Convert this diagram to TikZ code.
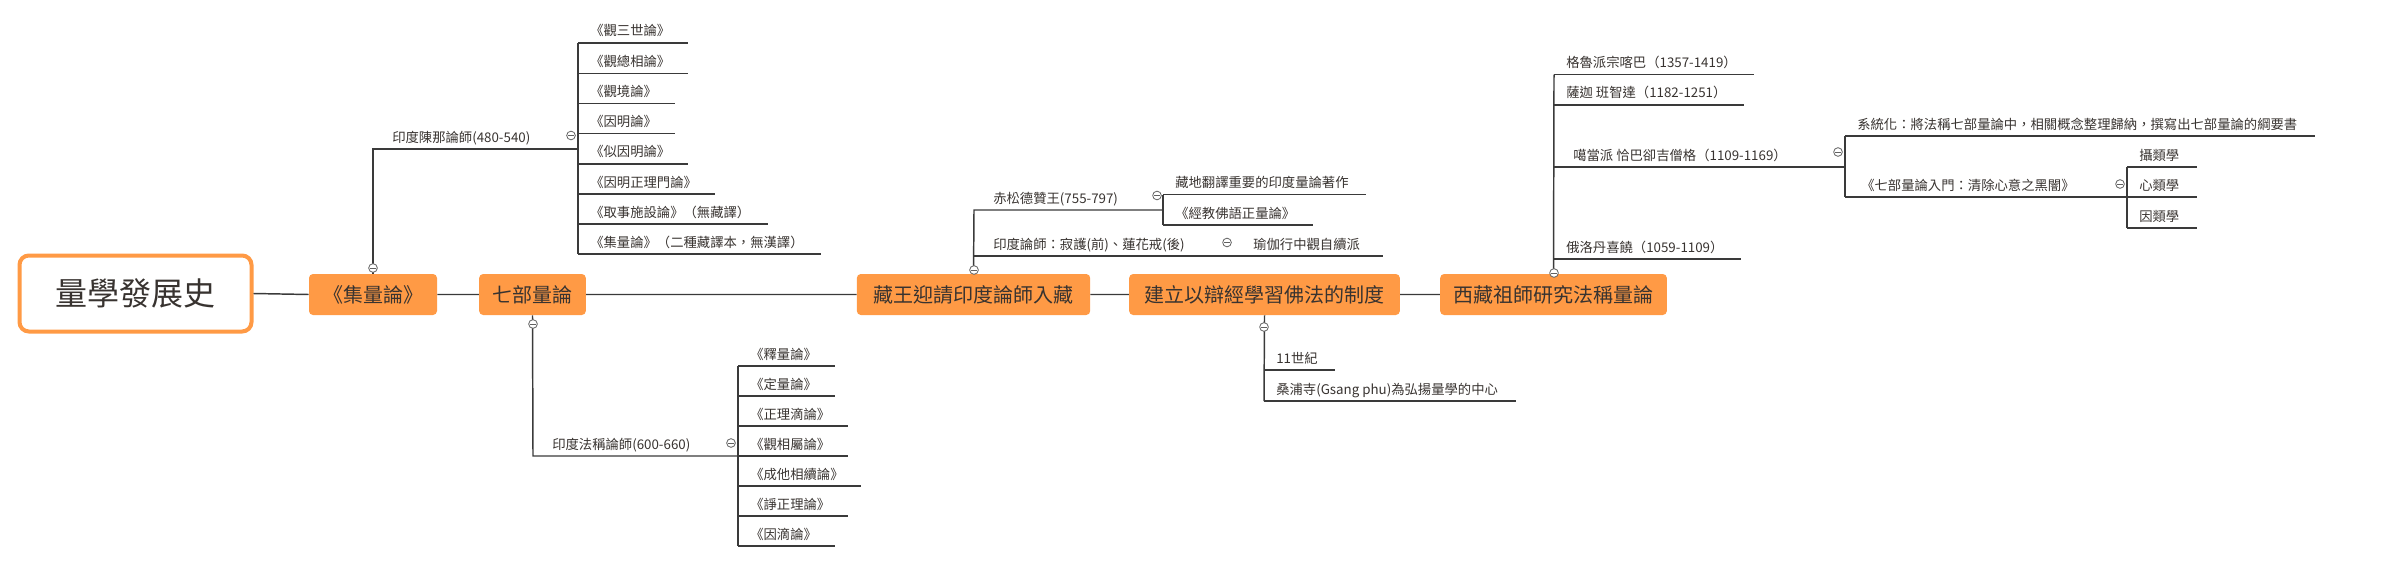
\documentclass[tikz,border=0pt]{standalone}
\usepackage{fontspec}
\setmainfont{Noto Sans CJK TC}
\definecolor{org}{HTML}{FF9A45}
\definecolor{txt}{HTML}{383330}
\definecolor{lnc}{HTML}{3A3A3A}
\tikzset{
 ln/.style={draw=lnc,line width=1.1pt},
 leaf/.style={anchor=base west,inner sep=0pt,font=\fontsize{10pt}{12pt}\selectfont,text=txt},
 topic/.style={fill=org,rounded corners=3pt,minimum height=30.75pt,inner sep=0pt,font=\fontsize{15pt}{18pt}\selectfont,text=txt},
 mc/.style={circle,draw=lnc!80,line width=0.6pt,fill=white,minimum size=6.5pt,inner sep=0pt},
}
\newcommand\leaf[4]{\node[leaf] (#1) at (#2+12,#3-7) {#4};
 \draw[ln] (#2,#3) -- ([xshift=13pt]#1.base east |- 0,#3);}
\newcommand\mcirc[3]{\node[mc] (#1) at (#2,#3) {};
 \draw[draw=lnc!80,line width=0.6pt] ([xshift=1.5pt]#1.west) -- ([xshift=-1.5pt]#1.east);}
\begin{document}
\begin{tikzpicture}[x=0.75pt,y=-0.75pt]
\useasboundingbox (0,0) rectangle (2386,560);
% main topics
\node[draw=org,line width=3pt,fill=white,rounded corners=7pt,minimum width=174pt,minimum height=57pt,font=\fontsize{24pt}{28pt}\selectfont,text=txt] (root) at (135.5,293.5) {量學發展史};
\node[topic,minimum width=96pt] (t1) at (373,294.5) {《集量論》};
\node[topic,minimum width=80pt] (t2) at (532.5,294.5) {七部量論};
\node[topic,minimum width=175pt] (t3) at (973.5,294.5) {藏王迎請印度論師入藏};
\node[topic,minimum width=203pt] (t4) at (1264.5,294.5) {建立以辯經學習佛法的制度};
\node[topic,minimum width=170pt] (t5) at (1553.5,294.5) {西藏祖師研究法稱量論};
\draw[ln] (root.east) -- (t1.west) (t1.east) -- (t2.west) (t2.east) -- (t3.west) (t3.east) -- (t4.west) (t4.east) -- (t5.west);
% branch 1: 陳那
\draw[ln] (t1.north) -- (373,149) -- (578,149);
\draw[ln] (578,43) -- (578,254);
\node[leaf] (l1) at (392,142) {印度陳那論師(480-540)};
\mcirc{c1a}{571}{135.5}
\mcirc{c1}{373}{268}
\leaf{a1}{578}{43}{《觀三世論》}
\leaf{a2}{578}{73.5}{《觀總相論》}
\leaf{a3}{578}{103.6}{《觀境論》}
\leaf{a4}{578}{133.7}{《因明論》}
\leaf{a5}{578}{163.8}{《似因明論》}
\leaf{a6}{578}{194}{《因明正理門論》}
\leaf{a7}{578}{224}{《取事施設論》（無藏譯）}
\leaf{a8}{578}{254}{《集量論》（二種藏譯本，無漢譯）}
% branch 2: 法稱
\draw[ln] (t2.south) -- (533,456) -- (738,456);
\draw[ln] (738,366) -- (738,546);
\node[leaf] (l2) at (552,449) {印度法稱論師(600-660)};
\mcirc{c2a}{731}{443}
\mcirc{c2}{533}{324}
\leaf{b1}{738}{366}{《釋量論》}
\leaf{b2}{738}{396}{《定量論》}
\leaf{b3}{738}{426}{《正理滴論》}
\leaf{b4}{738}{456}{《觀相屬論》}
\leaf{b5}{738}{486}{《成他相續論》}
\leaf{b6}{738}{516}{《諍正理論》}
\leaf{b7}{738}{546}{《因滴論》}
% branch 3
\draw[ln] (t3.north) -- (974,210) -- (1163,210);
\draw[ln] (974,256) -- (1383,256);
\draw[ln] (1163,194.5) -- (1163,225);
\node[leaf] (l3) at (993,203) {赤松德贊王(755-797)};
\mcirc{c3a}{1157}{195.5}
\node[leaf] (l4) at (993,249) {印度論師：寂護(前)、蓮花戒(後)};
\mcirc{c3b}{1227}{242.5}
\node[leaf] (l5) at (1253,249) {瑜伽行中觀自續派};
\mcirc{c3}{974}{270}
\leaf{d1}{1163}{194.5}{藏地翻譯重要的印度量論著作}
\leaf{d2}{1163}{225}{《經教佛語正量論》}
% branch 4
\draw[ln] (t4.south) -- (1264,401);
\mcirc{c4}{1264}{327}
\leaf{e1}{1264}{370}{11世紀}
\leaf{e2}{1264}{401}{桑浦寺(Gsang phu)為弘揚量學的中心}
% branch 5
\draw[ln] (t5.north) -- (1554,74.6);
\mcirc{c5}{1554}{273}
\leaf{f1}{1554}{74.6}{格魯派宗喀巴（1357-1419）}
\leaf{f2}{1554}{105}{薩迦 班智達（1182-1251）}
\node[leaf] (f3) at (1573,160) {噶當派 恰巴卻吉僧格（1109-1169）};
\draw[ln] (1554,167) -- (1845,167);
\mcirc{c5a}{1838}{152}
\leaf{f4}{1554}{259}{俄洛丹喜饒（1059-1109）}
\draw[ln] (1845,136) -- (1845,197);
\leaf{g1}{1845}{136}{系統化：將法稱七部量論中，相關概念整理歸納，撰寫出七部量論的綱要書}
\node[leaf] (g2) at (1861,190) {《七部量論入門：清除心意之黑闇》};
\draw[ln] (1845,197) -- (2127,197);
\mcirc{c5b}{2120}{184}
\draw[ln] (2127,167) -- (2127,228);
\leaf{h1}{2127}{167}{攝類學}
\leaf{h2}{2127}{197}{心類學}
\leaf{h3}{2127}{228}{因類學}
\end{tikzpicture}
\end{document}
